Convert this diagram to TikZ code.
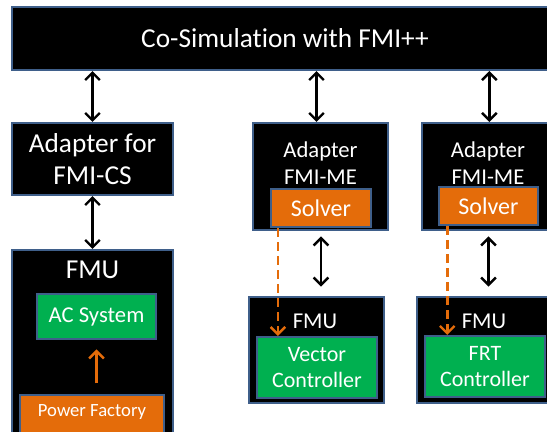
\documentclass[tikz,border=0pt]{standalone}
\usepackage{fontspec}
\setmainfont[Ligatures=NoCommon]{Carlito}
\usepackage{tikz}
\usetikzlibrary{
    arrows.meta,
    positioning,
    calc
}
\definecolor{frameblue}{HTML}{3F5F8A}
\definecolor{boxgreen}{HTML}{00B050}
\definecolor{boxorange}{HTML}{E46C0A}
\tikzset{
    % Colors
    frame color/.style={draw=frameblue},
    nice green/.style={fill=boxgreen},
    nice orange/.style={fill=boxorange},
    %
    % Boxes (sizes in pixels of the drawing)
    box size/.style 2 args={minimum width=#1*0.75pt,minimum height=#2*0.75pt},
    block/.style={frame color,line width=1.6pt,fill=black,text=white,inner sep=0pt,align=center},
    inner block/.style={block,#1},
    title/.style={text=white,inner sep=0pt,align=center},
    %
    % Arrows
    arrow tip/.tip={Straight Barb[length=5.5pt,width=11pt,line width=1.8pt]},
    darr/.style={<->,>={arrow tip},line width=2.1pt},
    oarr/.style={->,>={arrow tip},line width=2.1pt,boxorange},
    dashed oarr/.style={oarr,dash pattern=on 6.5pt off 4pt}
}
\tikzstyle{every node}=[font=\fontsize{17}{20}\selectfont]

\begin{document}
\begin{tikzpicture}[x=0.75pt,y=-0.75pt]
        \useasboundingbox (0,0) rectangle (547,432);
        % top level
        \node[block,box size={546}{63},font=\fontsize{20.5}{24}\selectfont] (cosim) at (285,38.5) {Co-Simulation with FMI++};
        %
        % left column: co-simulation FMU
        \node[block,box size={161}{72},font=\fontsize{20.5}{24.5}\selectfont] (adcs) at (92.5,159) {Adapter for\\FMI-CS};
        \node[block,box size={161}{200}] (fmu1) at (92.5,350) {};
        \node[title,font=\fontsize{20.5}{24}\selectfont] (fmu1 title) at (92.5,270) {FMU};
        \node[inner block=nice green,box size={119}{45},font=\fontsize{17}{20}\selectfont] (acsys) at (96.5,316.5) {AC System};
        \node[inner block=nice orange,box size={144}{50},anchor=north] (pf) at (92,394) {};
        \node[title,font=\fontsize{14}{17}\selectfont] (pf text) at (92,412) {Power Factory};
        %
        % middle column: model exchange FMU
        \node[block,box size={135}{107}] (adme1) at (320.5,176.5) {};
        \node[title,font=\fontsize{17}{20.5}\selectfont] (adme1 title) at (320.5,163) {Adapter\\FMI-ME};
        \node[inner block=nice orange,box size={100}{38},font=\fontsize{18}{21}\selectfont] (solver1) at (321,208) {Solver};
        \node[block,box size={135}{106}] (fmu2) at (316.5,350) {};
        \node[title] (fmu2 title) at (315,321) {FMU};
        \node[inner block=nice green,box size={120}{61},font=\fontsize{16.5}{19.5}\selectfont] (vc) at (317,367.5) {Vector\\Controller};
        %
        % right column: model exchange FMU
        \node[block,box size={140}{107}] (adme2) at (492,176.5) {};
        \node[title,font=\fontsize{17}{20.5}\selectfont] (adme2 title) at (488,163) {Adapter\\FMI-ME};
        \node[inner block=nice orange,box size={99}{38},font=\fontsize{18}{21}\selectfont] (solver2) at (488.5,206) {Solver};
        \node[block,box size={140}{106}] (fmu3) at (487,350) {};
        \node[title] (fmu3 title) at (484,321) {FMU};
        \node[inner block=nice green,box size={120}{61},font=\fontsize{16.5}{19.5}\selectfont] (frt) at (485,366.5) {FRT\\Controller};
        %
        % links
        \draw[darr] (adcs.north) -- (adcs.north |- cosim.south);
        \draw[darr] ([xshift=-3]adme1.north) -- ([xshift=-3]adme1.north |- cosim.south);
        \draw[darr] ([xshift=-2]adme2.north) -- ([xshift=-2]adme2.north |- cosim.south);
        \draw[darr] (fmu1.north) -- (adcs.south);
        \draw[darr,shorten <=7pt,shorten >=4pt] (fmu2.north -| solver1) -- (solver1 |- adme1.south);
        \draw[darr,shorten <=7pt,shorten >=4pt] (fmu3.north -| solver2) -- (solver2 |- adme2.south);
        \draw[oarr,shorten <=8pt,shorten >=7pt] (pf.north -| acsys.south) -- (acsys.south);
        \draw[dashed oarr] ([xshift=6]solver1.south west) -- ([xshift=6]solver1.south west |- vc.north);
        \draw[dashed oarr] ([xshift=7]solver2.south west) -- ([xshift=7]solver2.south west |- frt.north);
    \end{tikzpicture}
\end{document}
